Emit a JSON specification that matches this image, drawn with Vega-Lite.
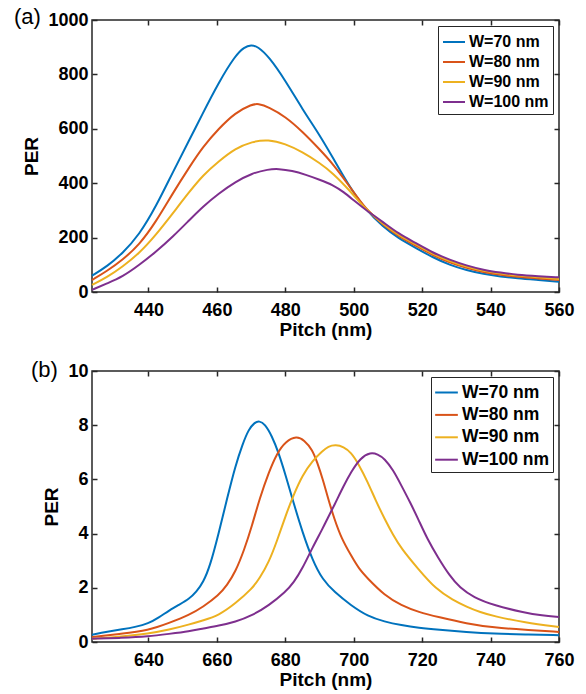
{
  "$schema": "https://vega.github.io/schema/vega-lite/v6.json",
  "padding": {"left": 13, "top": 5, "right": 5, "bottom": 2},
  "spacing": 18,
  "config": {
    "font": "Liberation Sans",
    "view": {"stroke": "#262626", "strokeWidth": 1.5},
    "axis": {"grid": false, "domain": false, "tickColor": "#262626", "tickSize": -5, "tickWidth": 1.5,
      "labelFont": "Liberation Sans", "labelFontWeight": "bold", "labelFontSize": 18, "labelColor": "black",
      "titleFont": "Liberation Sans", "titleFontWeight": "bold", "titleFontSize": 19, "titleColor": "black",
      "labelFlush": false, "labelOverlap": false, "format": "d"},
    "legend": {"orient": "top-right", "offset": 6, "title": null, "labelFont": "Liberation Sans", "labelFontWeight": "bold", "labelColor": "black",
      "symbolType": "stroke", "symbolStrokeWidth": 2, "strokeColor": "#262626", "fillColor": "white", "padding": 4, "labelOffset": 3}
  },
  "datasets": {
    "a": [
      {"w":"W=70 nm","p":423.5,"v":60},{"w":"W=70 nm","p":428,"v":95},{"w":"W=70 nm","p":432.4,"v":142},{"w":"W=70 nm","p":437.3,"v":210},{"w":"W=70 nm","p":442.2,"v":314},{"w":"W=70 nm","p":447.1,"v":440},{"w":"W=70 nm","p":452,"v":560},{"w":"W=70 nm","p":455.6,"v":650},{"w":"W=70 nm","p":460.5,"v":770},{"w":"W=70 nm","p":465.4,"v":870},{"w":"W=70 nm","p":468,"v":900},{"w":"W=70 nm","p":470,"v":909},{"w":"W=70 nm","p":472,"v":902},{"w":"W=70 nm","p":475.2,"v":865},{"w":"W=70 nm","p":480,"v":778},{"w":"W=70 nm","p":485,"v":672},{"w":"W=70 nm","p":490,"v":578},{"w":"W=70 nm","p":494,"v":492},{"w":"W=70 nm","p":498.7,"v":388},{"w":"W=70 nm","p":503.6,"v":301},{"w":"W=70 nm","p":508.5,"v":240},{"w":"W=70 nm","p":513,"v":198},{"w":"W=70 nm","p":518.3,"v":161},{"w":"W=70 nm","p":523,"v":128},{"w":"W=70 nm","p":528.1,"v":99},{"w":"W=70 nm","p":533,"v":80},{"w":"W=70 nm","p":537.9,"v":66},{"w":"W=70 nm","p":543,"v":57},{"w":"W=70 nm","p":547.7,"v":50},{"w":"W=70 nm","p":554,"v":44},{"w":"W=70 nm","p":560,"v":38},
      {"w":"W=80 nm","p":423.5,"v":44},{"w":"W=80 nm","p":428,"v":78},{"w":"W=80 nm","p":432.4,"v":118},{"w":"W=80 nm","p":437.3,"v":173},{"w":"W=80 nm","p":442.2,"v":258},{"w":"W=80 nm","p":447.1,"v":363},{"w":"W=80 nm","p":452,"v":460},{"w":"W=80 nm","p":456,"v":535},{"w":"W=80 nm","p":460.5,"v":600},{"w":"W=80 nm","p":465.4,"v":660},{"w":"W=80 nm","p":470.3,"v":690},{"w":"W=80 nm","p":472,"v":693},{"w":"W=80 nm","p":475.2,"v":680},{"w":"W=80 nm","p":480,"v":645},{"w":"W=80 nm","p":485,"v":590},{"w":"W=80 nm","p":490,"v":525},{"w":"W=80 nm","p":494,"v":470},{"w":"W=80 nm","p":498.7,"v":390},{"w":"W=80 nm","p":503.6,"v":303},{"w":"W=80 nm","p":508.5,"v":248},{"w":"W=80 nm","p":513,"v":205},{"w":"W=80 nm","p":518.3,"v":170},{"w":"W=80 nm","p":523,"v":135},{"w":"W=80 nm","p":528.1,"v":108},{"w":"W=80 nm","p":533,"v":88},{"w":"W=80 nm","p":537.9,"v":73},{"w":"W=80 nm","p":543,"v":63},{"w":"W=80 nm","p":547.7,"v":56},{"w":"W=80 nm","p":554,"v":50},{"w":"W=80 nm","p":560,"v":44},
      {"w":"W=90 nm","p":423.5,"v":26},{"w":"W=90 nm","p":428,"v":55},{"w":"W=90 nm","p":432.4,"v":93},{"w":"W=90 nm","p":437.3,"v":142},{"w":"W=90 nm","p":442.2,"v":210},{"w":"W=90 nm","p":447.1,"v":289},{"w":"W=90 nm","p":452,"v":369},{"w":"W=90 nm","p":456,"v":430},{"w":"W=90 nm","p":460.5,"v":480},{"w":"W=90 nm","p":465.4,"v":528},{"w":"W=90 nm","p":470.3,"v":553},{"w":"W=90 nm","p":475,"v":561},{"w":"W=90 nm","p":480,"v":545},{"w":"W=90 nm","p":485,"v":515},{"w":"W=90 nm","p":490,"v":475},{"w":"W=90 nm","p":494,"v":436},{"w":"W=90 nm","p":498.7,"v":375},{"w":"W=90 nm","p":503.6,"v":302},{"w":"W=90 nm","p":508.5,"v":252},{"w":"W=90 nm","p":513,"v":210},{"w":"W=90 nm","p":518.3,"v":175},{"w":"W=90 nm","p":523,"v":140},{"w":"W=90 nm","p":528.1,"v":113},{"w":"W=90 nm","p":533,"v":93},{"w":"W=90 nm","p":537.9,"v":77},{"w":"W=90 nm","p":543,"v":68},{"w":"W=90 nm","p":547.7,"v":60},{"w":"W=90 nm","p":554,"v":54},{"w":"W=90 nm","p":560,"v":48},
      {"w":"W=100 nm","p":423.5,"v":8},{"w":"W=100 nm","p":428,"v":32},{"w":"W=100 nm","p":432.4,"v":56},{"w":"W=100 nm","p":437.3,"v":99},{"w":"W=100 nm","p":442.2,"v":148},{"w":"W=100 nm","p":447.1,"v":203},{"w":"W=100 nm","p":452,"v":265},{"w":"W=100 nm","p":456,"v":315},{"w":"W=100 nm","p":460.5,"v":362},{"w":"W=100 nm","p":465.4,"v":405},{"w":"W=100 nm","p":470.3,"v":437},{"w":"W=100 nm","p":475,"v":451},{"w":"W=100 nm","p":478,"v":453},{"w":"W=100 nm","p":482,"v":446},{"w":"W=100 nm","p":486,"v":431},{"w":"W=100 nm","p":490,"v":413},{"w":"W=100 nm","p":494,"v":393},{"w":"W=100 nm","p":497,"v":368},{"w":"W=100 nm","p":500,"v":337},{"w":"W=100 nm","p":503.6,"v":301},{"w":"W=100 nm","p":508.5,"v":258},{"w":"W=100 nm","p":513,"v":215},{"w":"W=100 nm","p":518.3,"v":179},{"w":"W=100 nm","p":523,"v":145},{"w":"W=100 nm","p":528.1,"v":118},{"w":"W=100 nm","p":533,"v":97},{"w":"W=100 nm","p":537.9,"v":81},{"w":"W=100 nm","p":543,"v":71},{"w":"W=100 nm","p":547.7,"v":63},{"w":"W=100 nm","p":554,"v":58},{"w":"W=100 nm","p":560,"v":54}
    ],
    "b": [
      {"w":"W=70 nm","p":623.5,"v":0.27},{"w":"W=70 nm","p":628,"v":0.38},{"w":"W=70 nm","p":632.4,"v":0.47},{"w":"W=70 nm","p":636,"v":0.55},{"w":"W=70 nm","p":640,"v":0.68},{"w":"W=70 nm","p":643,"v":0.9},{"w":"W=70 nm","p":646.1,"v":1.17},{"w":"W=70 nm","p":649,"v":1.38},{"w":"W=70 nm","p":652,"v":1.6},{"w":"W=70 nm","p":654,"v":1.85},{"w":"W=70 nm","p":656,"v":2.2},{"w":"W=70 nm","p":658,"v":2.8},{"w":"W=70 nm","p":660.5,"v":4.0},{"w":"W=70 nm","p":663,"v":5.3},{"w":"W=70 nm","p":665.4,"v":6.5},{"w":"W=70 nm","p":667.5,"v":7.3},{"w":"W=70 nm","p":669.3,"v":7.85},{"w":"W=70 nm","p":671,"v":8.1},{"w":"W=70 nm","p":672.4,"v":8.16},{"w":"W=70 nm","p":674,"v":8.05},{"w":"W=70 nm","p":676.1,"v":7.6},{"w":"W=70 nm","p":678,"v":7.0},{"w":"W=70 nm","p":680.1,"v":6.15},{"w":"W=70 nm","p":682.5,"v":5.1},{"w":"W=70 nm","p":685,"v":4.06},{"w":"W=70 nm","p":688,"v":3.0},{"w":"W=70 nm","p":690.9,"v":2.3},{"w":"W=70 nm","p":694.3,"v":1.85},{"w":"W=70 nm","p":699.2,"v":1.35},{"w":"W=70 nm","p":704.1,"v":0.95},{"w":"W=70 nm","p":709,"v":0.75},{"w":"W=70 nm","p":713.9,"v":0.62},{"w":"W=70 nm","p":719,"v":0.52},{"w":"W=70 nm","p":724.7,"v":0.45},{"w":"W=70 nm","p":733,"v":0.37},{"w":"W=70 nm","p":741,"v":0.31},{"w":"W=70 nm","p":750,"v":0.28},{"w":"W=70 nm","p":760,"v":0.25},
      {"w":"W=80 nm","p":623.5,"v":0.18},{"w":"W=80 nm","p":632,"v":0.3},{"w":"W=80 nm","p":640,"v":0.43},{"w":"W=80 nm","p":646,"v":0.7},{"w":"W=80 nm","p":652,"v":1.0},{"w":"W=80 nm","p":656,"v":1.3},{"w":"W=80 nm","p":660.5,"v":1.72},{"w":"W=80 nm","p":663,"v":2.1},{"w":"W=80 nm","p":665.4,"v":2.58},{"w":"W=80 nm","p":668,"v":3.4},{"w":"W=80 nm","p":670.3,"v":4.3},{"w":"W=80 nm","p":672.5,"v":5.3},{"w":"W=80 nm","p":675.2,"v":6.27},{"w":"W=80 nm","p":677.5,"v":6.95},{"w":"W=80 nm","p":680.1,"v":7.4},{"w":"W=80 nm","p":683.3,"v":7.6},{"w":"W=80 nm","p":685.5,"v":7.45},{"w":"W=80 nm","p":687.9,"v":7.1},{"w":"W=80 nm","p":689.4,"v":6.6},{"w":"W=80 nm","p":690.9,"v":6.03},{"w":"W=80 nm","p":692.5,"v":5.3},{"w":"W=80 nm","p":694.3,"v":4.55},{"w":"W=80 nm","p":696.5,"v":3.8},{"w":"W=80 nm","p":699.2,"v":3.2},{"w":"W=80 nm","p":701.5,"v":2.7},{"w":"W=80 nm","p":704.1,"v":2.34},{"w":"W=80 nm","p":709,"v":1.72},{"w":"W=80 nm","p":713.9,"v":1.35},{"w":"W=80 nm","p":719,"v":1.1},{"w":"W=80 nm","p":724.7,"v":0.92},{"w":"W=80 nm","p":733,"v":0.68},{"w":"W=80 nm","p":741,"v":0.53},{"w":"W=80 nm","p":750,"v":0.45},{"w":"W=80 nm","p":760,"v":0.37},
      {"w":"W=90 nm","p":623.5,"v":0.12},{"w":"W=90 nm","p":632,"v":0.2},{"w":"W=90 nm","p":640,"v":0.31},{"w":"W=90 nm","p":646,"v":0.45},{"w":"W=90 nm","p":652,"v":0.65},{"w":"W=90 nm","p":656,"v":0.8},{"w":"W=90 nm","p":660.5,"v":0.98},{"w":"W=90 nm","p":665.4,"v":1.42},{"w":"W=90 nm","p":670.3,"v":1.97},{"w":"W=90 nm","p":672.5,"v":2.35},{"w":"W=90 nm","p":675.2,"v":2.95},{"w":"W=90 nm","p":677.5,"v":3.7},{"w":"W=90 nm","p":680.1,"v":4.67},{"w":"W=90 nm","p":682.5,"v":5.45},{"w":"W=90 nm","p":685,"v":6.15},{"w":"W=90 nm","p":688,"v":6.7},{"w":"W=90 nm","p":690.9,"v":7.05},{"w":"W=90 nm","p":692.5,"v":7.22},{"w":"W=90 nm","p":694.8,"v":7.28},{"w":"W=90 nm","p":697,"v":7.2},{"w":"W=90 nm","p":699.2,"v":7.0},{"w":"W=90 nm","p":701.5,"v":6.55},{"w":"W=90 nm","p":704.1,"v":5.9},{"w":"W=90 nm","p":706.5,"v":5.2},{"w":"W=90 nm","p":709,"v":4.55},{"w":"W=90 nm","p":711.5,"v":3.95},{"w":"W=90 nm","p":713.9,"v":3.45},{"w":"W=90 nm","p":718.8,"v":2.7},{"w":"W=90 nm","p":724,"v":1.95},{"w":"W=90 nm","p":729,"v":1.55},{"w":"W=90 nm","p":733,"v":1.3},{"w":"W=90 nm","p":737,"v":1.1},{"w":"W=90 nm","p":741,"v":0.95},{"w":"W=90 nm","p":750,"v":0.72},{"w":"W=90 nm","p":760,"v":0.55},
      {"w":"W=100 nm","p":623.5,"v":0.12},{"w":"W=100 nm","p":632,"v":0.15},{"w":"W=100 nm","p":640,"v":0.2},{"w":"W=100 nm","p":646,"v":0.3},{"w":"W=100 nm","p":652,"v":0.4},{"w":"W=100 nm","p":656,"v":0.5},{"w":"W=100 nm","p":660.5,"v":0.6},{"w":"W=100 nm","p":665.4,"v":0.74},{"w":"W=100 nm","p":670.3,"v":0.98},{"w":"W=100 nm","p":675.2,"v":1.35},{"w":"W=100 nm","p":680.1,"v":1.85},{"w":"W=100 nm","p":682.5,"v":2.2},{"w":"W=100 nm","p":685,"v":2.71},{"w":"W=100 nm","p":688,"v":3.5},{"w":"W=100 nm","p":690.9,"v":4.18},{"w":"W=100 nm","p":692.5,"v":4.6},{"w":"W=100 nm","p":694.3,"v":5.04},{"w":"W=100 nm","p":697,"v":5.75},{"w":"W=100 nm","p":699.2,"v":6.27},{"w":"W=100 nm","p":702,"v":6.8},{"w":"W=100 nm","p":704.9,"v":7.0},{"w":"W=100 nm","p":707,"v":6.93},{"w":"W=100 nm","p":709,"v":6.77},{"w":"W=100 nm","p":711.5,"v":6.35},{"w":"W=100 nm","p":713.9,"v":5.78},{"w":"W=100 nm","p":716.5,"v":5.15},{"w":"W=100 nm","p":718.8,"v":4.55},{"w":"W=100 nm","p":721.5,"v":3.8},{"w":"W=100 nm","p":724.7,"v":3.1},{"w":"W=100 nm","p":728,"v":2.45},{"w":"W=100 nm","p":731,"v":2.0},{"w":"W=100 nm","p":735,"v":1.65},{"w":"W=100 nm","p":741,"v":1.35},{"w":"W=100 nm","p":750,"v":1.08},{"w":"W=100 nm","p":755,"v":0.98},{"w":"W=100 nm","p":760,"v":0.92}
    ]
  },
  "vconcat": [
    {
      "width": 467, "height": 272,
      "data": {"name": "a"},
      "title": {"text": "(a)", "anchor": "start", "frame": "group", "orient": "top", "offset": -35, "dx": -78, "baseline": "alphabetic", "fontSize": 22, "fontWeight": "normal", "font": "Liberation Sans", "color": "black"},
      "layer": [
        {
          "mark": {"type": "line", "strokeWidth": 2, "interpolate": "basis"},
          "encoding": {
            "x": {"field": "p", "type": "quantitative", "scale": {"domain": [423.5, 560], "nice": false, "zero": false},
              "axis": {"orient": "bottom", "values": [440, 460, 480, 500, 520, 540, 560], "title": "Pitch (nm)", "labelPadding": 14, "titlePadding": 1}},
            "y": {"field": "v", "type": "quantitative", "scale": {"domain": [0, 1000], "nice": false},
              "axis": {"orient": "left", "values": [0, 200, 400, 600, 800, 1000], "title": "PER", "labelPadding": 9, "titlePadding": 6}},
            "color": {"field": "w", "type": "nominal",
              "scale": {"domain": ["W=70 nm", "W=80 nm", "W=90 nm", "W=100 nm"], "range": ["#0072BD", "#D95319", "#EDB120", "#7E2F8E"]},
              "legend": {"labelFontSize": 16, "symbolSize": 484, "rowPadding": 0}}
          }
        },
        {
          "mark": {"type": "point", "opacity": 0},
          "encoding": {
            "x": {"field": "p", "type": "quantitative", "axis": {"orient": "top", "values": [440, 460, 480, 500, 520, 540, 560], "labels": false, "title": null}},
            "y": {"field": "v", "type": "quantitative", "axis": {"orient": "right", "values": [0, 200, 400, 600, 800, 1000], "labels": false, "title": null}}
          }
        }
      ],
      "resolve": {"axis": {"x": "independent", "y": "independent"}}
    },
    {
      "width": 467, "height": 271,
      "data": {"name": "b"},
      "title": {"text": "(b)", "anchor": "start", "frame": "group", "orient": "top", "offset": -37, "dx": -61, "baseline": "alphabetic", "fontSize": 22, "fontWeight": "normal", "font": "Liberation Sans", "color": "black"},
      "layer": [
        {
          "mark": {"type": "line", "strokeWidth": 2, "interpolate": "basis"},
          "encoding": {
            "x": {"field": "p", "type": "quantitative", "scale": {"domain": [623.5, 760], "nice": false, "zero": false},
              "axis": {"orient": "bottom", "values": [640, 660, 680, 700, 720, 740, 760], "title": "Pitch (nm)", "labelPadding": 14, "titlePadding": 1}},
            "y": {"field": "v", "type": "quantitative", "scale": {"domain": [0, 10], "nice": false},
              "axis": {"orient": "left", "values": [0, 2, 4, 6, 8, 10], "title": "PER", "labelPadding": 9, "titlePadding": 6}},
            "color": {"field": "w", "type": "nominal",
              "scale": {"domain": ["W=70 nm", "W=80 nm", "W=90 nm", "W=100 nm"], "range": ["#0072BD", "#D95319", "#EDB120", "#7E2F8E"]},
              "legend": {"labelFontSize": 17.5, "symbolSize": 515, "rowPadding": 1.4, "padding": 3}}
          }
        },
        {
          "mark": {"type": "point", "opacity": 0},
          "encoding": {
            "x": {"field": "p", "type": "quantitative", "axis": {"orient": "top", "values": [640, 660, 680, 700, 720, 740, 760], "labels": false, "title": null}},
            "y": {"field": "v", "type": "quantitative", "axis": {"orient": "right", "values": [0, 2, 4, 6, 8, 10], "labels": false, "title": null}}
          }
        }
      ],
      "resolve": {"axis": {"x": "independent", "y": "independent"}}
    }
  ],
  "resolve": {"scale": {"color": "independent"}, "legend": {"color": "independent"}}
}
